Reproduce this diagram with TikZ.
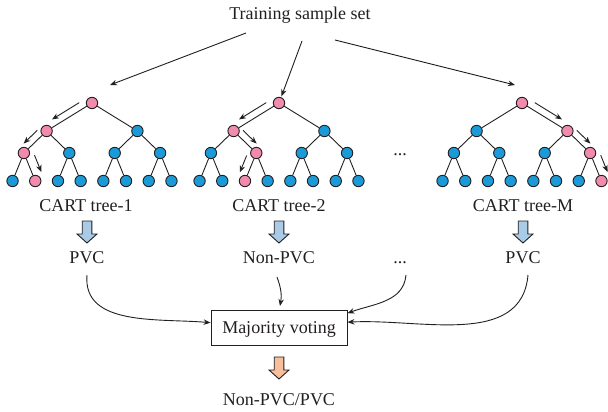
\documentclass[tikz,border=0pt]{standalone}
\usepackage{fontspec}
\setmainfont{Liberation Serif}
\usetikzlibrary{calc,arrows.meta}

\definecolor{leafblue}{HTML}{1B9AD8}
\definecolor{pathpink}{HTML}{F08BAB}
\definecolor{ink}{HTML}{231F20}
\definecolor{bluearrow}{HTML}{A9CBE6}
\definecolor{orangearrow}{HTML}{F8BF9C}

\tikzset{
  tn/.style={circle, draw=ink, line width=0.9pt, minimum size=11.4pt, inner sep=0pt},
  edge/.style={draw=ink, line width=0.9pt},
  arr/.style={-{Stealth[length=7pt,width=5.5pt]}, line width=0.9pt, draw=ink},
  lbl/.style={font=\fontsize{18}{20}\selectfont, inner sep=0pt, anchor=base, text=ink},
  votebox/.style={draw=ink, line width=0.9pt, minimum width=136pt, minimum height=34.5pt,
    inner sep=0pt, text height=12pt, text depth=0pt, font=\fontsize{18}{20}\selectfont, text=ink},
  blockarr/.style={draw=ink, line width=0.9pt, line join=miter},
}

% binary tree of depth 3: #1 name prefix, #2 root x, #3 highlighted nodes (heap order)
\newcommand\cart[3]{%
  \foreach \i/\dx/\yy in {1/0/103, 2/-45.4/131, 3/45.4/131,
      4/-68.1/153, 5/-22.7/153, 6/22.7/153, 7/68.1/153,
      8/-79.45/181, 9/-56.75/181, 10/-34.05/181, 11/-11.35/181,
      12/11.35/181, 13/34.05/181, 14/56.75/181, 15/79.45/181} {
    \gdef\nodefill{leafblue}%
    \foreach \p in {#3} {\ifnum\p=\i\relax\gdef\nodefill{pathpink}\fi}%
    \node[tn, fill=\nodefill] (#1\i) at ({#2+\dx}, \yy) {};
  }
  \foreach \i in {1,...,7} {
    \pgfmathtruncatemacro\lc{2*\i}
    \pgfmathtruncatemacro\rc{2*\i+1}
    \draw[edge] (#1\i) -- (#1\lc);
    \draw[edge] (#1\i) -- (#1\rc);
  }
}

% arrow running beside the edge #1 -> #2, on side #3 (+90/-90), at distance #4
\newcommand\trail[4]{%
  \draw[arr] ($(#1)!0.2!(#2)!#4!#3:(#2)$) -- ($(#1)!0.8!(#2)!#4!#3:(#2)$);
}

% block arrow pointing down: top centre (#1,#2), fill #3
\newcommand\blockdown[3]{%
  \filldraw[blockarr, fill=#3] (#1,#2) ++(-4.8,0) -- ++(9.6,0) -- ++(0,13) -- ++(5.2,0)
    -- ++(-10,9) -- ++(-10,-9) -- ++(5.2,0) -- cycle;
}

\begin{document}
\begin{tikzpicture}[x=1pt, y=-1pt]
  \useasboundingbox (0,0) rectangle (608,412);

  \node[lbl] (train) at (300,20) {Training sample set};

  % the three trees with their decision paths
  \cart{ta}{92}{1,2,4,9}
  \cart{tb}{279}{1,2,5,10}
  \cart{tm}{522}{1,3,7,15}

  \node[lbl] (gap) at (400,155.5) {...};

  \trail{ta1}{ta2}{-90}{7pt}
  \trail{ta2}{ta4}{-90}{7pt}
  \trail{ta4}{ta9}{90}{9pt}
  \trail{tb1}{tb2}{-90}{7pt}
  \trail{tb2}{tb5}{90}{7pt}
  \trail{tb5}{tb10}{-90}{8pt}
  \trail{tm1}{tm3}{90}{7pt}
  \trail{tm3}{tm7}{90}{7pt}
  \trail{tm7}{tm15}{90}{9pt}

  % sample set feeding each tree
  \coordinate (sL) at (246,33);
  \coordinate (eL) at (110,85);
  \coordinate (sM) at (302,41);
  \coordinate (sR) at (335,40);
  \coordinate (eR) at (515,85);
  \draw[arr] (sL) -- (eL);
  \draw[arr, shorten >=1pt] (sM) -- (tb1);
  \draw[arr] (sR) -- (eR);

  % tree names and their votes
  \node[lbl] (na) at (86,211) {CART tree-1};
  \node[lbl] (nb) at (279,211) {CART tree-2};
  \node[lbl] (nm) at (523,211) {CART tree-M};

  \blockdown{87}{221}{bluearrow}
  \blockdown{279}{221}{bluearrow}
  \blockdown{523}{221}{bluearrow}

  \node[lbl] (va) at (87,263) {PVC};
  \node[lbl] (vb) at (279,263) {Non-PVC};
  \node[lbl] (vd) at (400,263) {...};
  \node[lbl] (vm) at (523,263) {PVC};

  \node[votebox] (vote) at (279,327.7) {Majority voting};

  \coordinate (ca) at (87,275);
  \coordinate (cb) at (277,277);
  \coordinate (cbe) at (280,306);
  \coordinate (cd) at (406,275);
  \coordinate (cm) at (528,275);
  \draw[arr] (ca) to[out=-95, in=175] ([yshift=5pt]vote.west);
  \draw[arr] (cb) to[out=-70, in=80] (cbe);
  \draw[arr] (cd) to[out=-95, in=20] ([yshift=14.5pt]vote.east);
  \draw[arr] (cm) to[out=-95, in=3] ([yshift=5.5pt]vote.east);

  \blockdown{279}{357}{orangearrow}
  \node[lbl] (result) at (279,405) {Non-PVC/PVC};
\end{tikzpicture}
\end{document}
